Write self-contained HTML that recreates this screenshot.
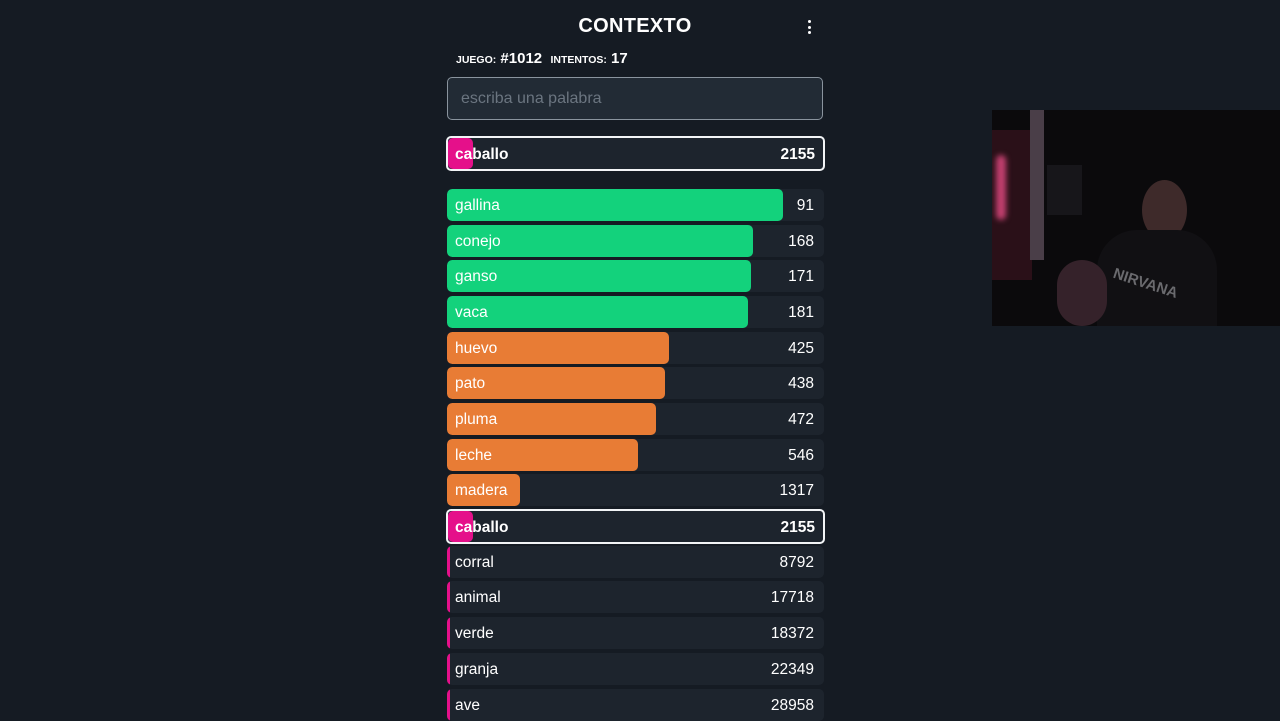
<!DOCTYPE html>
<html><head><meta charset="utf-8">
<style>
html,body{margin:0;padding:0;}
body{width:1280px;height:720px;background:#151b23;overflow:hidden;position:relative;font-family:"Liberation Sans","DejaVu Sans",sans-serif;color:#fff;}
#title{position:absolute;left:0;width:1270px;top:15px;text-align:center;font-weight:bold;font-size:20px;letter-spacing:0.3px;}
#menu{position:absolute;left:804px;top:20px;width:10px;height:20px;}
#menu span{display:block;width:3px;height:3px;background:#fff;border-radius:50%;margin:0 auto 2.5px;}
#meta{position:absolute;left:456px;top:50px;font-size:15px;font-weight:bold;}
#meta small{font-size:10.5px;font-weight:bold;}
#input{position:absolute;left:447px;top:77px;width:376px;height:43px;border:1px solid #8a949e;border-radius:5px;background:#222b35;box-sizing:border-box;padding:0 13px;line-height:41px;font-size:16px;color:#6b7580;}
.row{position:absolute;left:447px;width:377px;height:32px;background:#1d242d;border-radius:5px;overflow:hidden;}
.row .bar{position:absolute;left:0;top:0;height:100%;border-radius:5px;}
.row .w{position:absolute;left:8px;top:1px;line-height:32px;font-size:15.5px;}
.row .d{position:absolute;right:10px;top:1px;line-height:32px;font-size:15.5px;}
.hl{border:2px solid #f2f4f6;box-sizing:border-box;left:446px;width:379px;height:35px;}
.hl .w,.hl .d{font-weight:bold;line-height:31px;}
.hl .w{left:7px}.hl .d{right:8px}
#cam{position:absolute;left:992px;top:110px;width:288px;height:216px;background:#0b0a0c;overflow:hidden;}
</style></head><body>
<div id="title">CONTEXTO</div>
<div id="menu"><span></span><span></span><span></span></div>
<div id="meta"><small>JUEGO:</small> #1012&nbsp;&nbsp;<small>INTENTOS:</small> 17</div>
<div id="input">escriba una palabra</div>
<div id="rows"></div>
<div id="cam">
  <div style="position:absolute;left:0;top:20px;width:40px;height:150px;background:#2a1018;"></div>
  <div style="position:absolute;left:4px;top:45px;width:10px;height:65px;background:#c44070;border-radius:5px;filter:blur(3px);"></div>
  <div style="position:absolute;left:38px;top:0;width:14px;height:150px;background:#4a3e48;"></div>
  <div style="position:absolute;left:55px;top:55px;width:35px;height:50px;background:#17161a;"></div>
  <div style="position:absolute;left:150px;top:70px;width:45px;height:60px;background:#3e2a2a;border-radius:50%;"></div>
  <div style="position:absolute;left:105px;top:120px;width:120px;height:100px;background:#111013;border-radius:40px 40px 0 0;"></div>
  <div style="position:absolute;left:65px;top:150px;width:50px;height:66px;background:#35222a;border-radius:25px;"></div>
  <div style="position:absolute;left:120px;top:165px;color:#6a6a6e;font-size:15px;font-weight:bold;transform:rotate(18deg);">NIRVANA</div>
</div>
<script>
const words=["caballo","gallina","conejo","ganso","vaca","huevo","pato","pluma","leche","madera","caballo","corral","animal","verde","granja","ave"];
const distances=[2155,91,168,171,181,425,438,472,546,1317,2155,8792,17718,18372,22349,28958];
const highlighted=[true,false,false,false,false,false,false,false,false,false,true,false,false,false,false,false];
function colorScale(d){return d<300?"#13d27c":(d<1500?"#e87c35":"#e5108a");}
function widthScale(d,full){return Math.max(3,full*Math.exp(-0.00125*d));}
function yScale(i){return i===0?136:189+(i-1)*35.68;}
const cont=document.getElementById('rows');
for(let i=0;i<words.length;i++){
  const r=document.createElement('div');
  
  
  const hl=highlighted[i];
  r.className='row'+(hl?' hl':'');
  r.style.top=(hl?yScale(i)-(i===0?0:1.5):yScale(i))+'px';
  const full=hl?375:377;
  const b=document.createElement('div');
  
  
  b.className='bar';
  b.style.width=widthScale(distances[i],full)+'px';
  b.style.background=colorScale(distances[i]);
  const w=document.createElement('div');
  
  
  w.className='w';w.textContent=words[i];
  const d=document.createElement('div');
  
  
  d.className='d';d.textContent=distances[i];
  r.appendChild(b);r.appendChild(w);r.appendChild(d);
  cont.appendChild(r);
}
</script>
</body></html>
